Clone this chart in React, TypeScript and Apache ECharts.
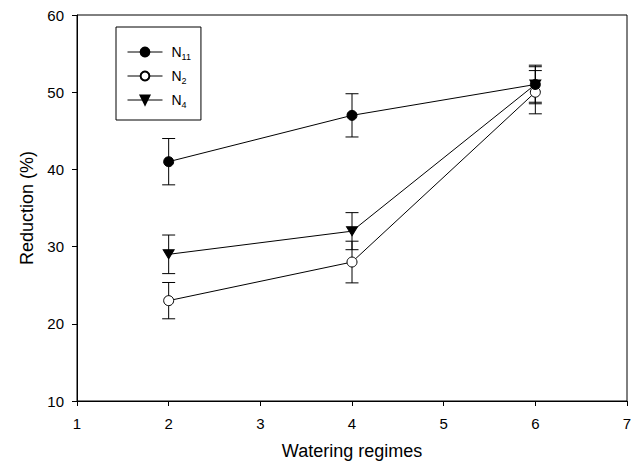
import React, { useEffect, useRef } from "react";
import * as echarts from "echarts";

const xValues = [2, 4, 6];
const n11Values = [41, 47, 51];
const n11Errors = [3, 2.8, 2.3];
const n2Values = [23, 28, 50];
const n2Errors = [2.35, 2.7, 2.8];
const n4Values = [29, 32, 51];
const n4Errors = [2.5, 2.4, 2.5];
const seriesNames = ["N11", "N2", "N4"];
const legendLabels: Record<string, string> = {
  N11: "{n|N}{s|11}",
  N2: "{n|N}{s|2}",
  N4: "{n|N}{s|4}",
};

const FONT = "'Liberation Sans', Arial, Helvetica, sans-serif";

function errData(vals: number[], errs: number[]) {
  return xValues.map((x, i) => [x, vals[i] - errs[i], vals[i] + errs[i]]);
}
function lineData(vals: number[]) {
  return xValues.map((x, i) => [x, vals[i]]);
}

function errorSeries(name: string, vals: number[], errs: number[]) {
  return {
    type: "custom",
    name: name + "_err",
    z: 1,
    silent: true,
    data: errData(vals, errs),
    encode: { x: 0, y: [1, 2] },
    renderItem: (params: any, api: any) => {
      const x = api.value(0);
      const lo = api.coord([x, api.value(1)]);
      const hi = api.coord([x, api.value(2)]);
      const w = 6.5;
      const style = { stroke: "#000", lineWidth: 1 };
      return {
        type: "group",
        children: [
          { type: "line", shape: { x1: lo[0], y1: lo[1], x2: hi[0], y2: hi[1] }, style },
          { type: "line", shape: { x1: lo[0] - w, y1: lo[1], x2: lo[0] + w, y2: lo[1] }, style },
          { type: "line", shape: { x1: hi[0] - w, y1: hi[1], x2: hi[0] + w, y2: hi[1] }, style },
        ],
      };
    },
  };
}

export default function App() {
  const ref = useRef<HTMLDivElement>(null);
  useEffect(() => {
    if (!ref.current) return;
    const chart = echarts.init(ref.current, undefined, { renderer: "svg" });
    const lineBase = {
      type: "line",
      z: 3,
      lineStyle: { color: "#000", width: 1 },
      itemStyle: { color: "#000", borderColor: "#000", borderWidth: 1 },
      emphasis: { disabled: true },
    };
    chart.setOption({
      animation: false,
      backgroundColor: "#fff",
      textStyle: { fontFamily: FONT },
      grid: {
        left: 77,
        right: 10,
        top: 15,
        bottom: 67,
        show: true,
        borderColor: "#000",
        borderWidth: 1,
        backgroundColor: "transparent",
      },
      legend: {
        data: seriesNames,
        orient: "vertical",
        left: 116,
        top: 27,
        itemWidth: 35,
        itemHeight: 11,
        itemGap: 8,
        padding: [18, 10, 11, 11],
        borderColor: "#000",
        borderWidth: 1,
        backgroundColor: "#fff",
        selectedMode: false,
        lineStyle: { width: 1, color: "#000" },
        formatter: (name: string) => legendLabels[name],
        textStyle: {
          color: "#000",
          fontFamily: FONT,
          fontSize: 14,
          rich: {
            n: { fontSize: 14, fontFamily: FONT, color: "#000", padding: [0, 0, 0, 4] },
            s: { fontSize: 9, fontFamily: FONT, color: "#000", padding: [9, 0, 0, 0] },
          },
        },
      },
      xAxis: {
        type: "value",
        min: 1,
        max: 7,
        interval: 1,
        name: "Watering regimes",
        nameLocation: "middle",
        nameGap: 41,
        nameTextStyle: { fontSize: 18, color: "#000", fontFamily: FONT },
        axisLine: { show: true, lineStyle: { color: "#000", width: 1 } },
        axisTick: { show: true, length: 5, lineStyle: { color: "#000" } },
        axisLabel: { fontSize: 15, color: "#000", fontFamily: FONT, margin: 15 },
        splitLine: { show: false },
      },
      yAxis: {
        type: "value",
        min: 10,
        max: 60,
        interval: 10,
        name: "Reduction (%)",
        nameLocation: "middle",
        nameGap: 41,
        nameTextStyle: { fontSize: 18, color: "#000", fontFamily: FONT },
        axisLine: { show: true, lineStyle: { color: "#000", width: 1 } },
        axisTick: { show: true, length: 5, lineStyle: { color: "#000" } },
        axisLabel: { fontSize: 15, color: "#000", fontFamily: FONT, margin: 13 },
        splitLine: { show: false },
      },
      series: [
        errorSeries("N2", n2Values, n2Errors),
        errorSeries("N4", n4Values, n4Errors),
        errorSeries("N11", n11Values, n11Errors),
        {
          ...lineBase,
          name: "N2",
          data: lineData(n2Values),
          symbol: "circle",
          symbolSize: 10,
          itemStyle: { color: "#fff", borderColor: "#000", borderWidth: 1 },
        },
        {
          ...lineBase,
          name: "N4",
          data: lineData(n4Values),
          symbol: "triangle",
          symbolRotate: 180,
          symbolSize: [11, 9],
        },
        {
          ...lineBase,
          name: "N11",
          data: lineData(n11Values),
          symbol: "circle",
          symbolSize: 10,
        },
      ],
    });
    return () => chart.dispose();
  }, []);
  return (
    <div
      ref={ref}
      style={{ position: "fixed", left: 0, top: 0, width: 637, height: 468 }}
    />
  );
}
